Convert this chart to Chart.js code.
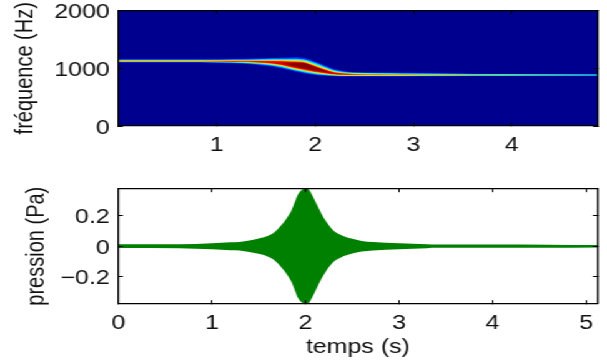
<!DOCTYPE html>
<html lang="fr">
<head>
    <meta charset="UTF-8">
    <title>Spectrogramme et pression</title>
    <script src="https://cdn.jsdelivr.net/npm/chart.js"></script>
    <style>
        html, body { margin: 0; padding: 0; background: #fff; overflow: hidden; }
        /* la figure d'origine est etiree en largeur */
        #figure { position: absolute; left: 0; top: 0; width: 486px; height: 364px; transform-origin: 0 0; transform: scaleX(1.249); }
        canvas { position: absolute; left: 0; }
    </style>
</head>
<body>
<div id="figure">
    <canvas id="spectro" width="486" height="180" style="top:-20px"></canvas>
    <canvas id="pression" width="486" height="204" style="top:160px"></canvas>
</div>
<script>
    // Spectrogramme: contours (Hz)
    const temps = [0, 0.62, 1.03, 1.3, 1.48, 1.65, 1.76, 1.88, 1.98, 2.09, 2.19, 2.29, 2.4, 2.65, 2.88, 3.37, 3.88, 4.87];
    const bleuHaut = [1157, 1157, 1158, 1165, 1175, 1183, 1190, 1181, 1129, 1057, 991, 952, 934, 928, 921, 909, 900, 893];
    const bleuBas = [1098, 1098, 1090, 1075, 1043, 1000, 957, 914, 888, 871, 862, 857, 857, 857, 859, 862, 866, 872];
    const cyanHaut = [1147, 1147, 1148, 1150, 1159, 1164, 1164, 1155, 1107, 1034, 969, 938, 924, 918, 914, 903, 897, 890];
    const cyanBas = [1107, 1107, 1100, 1087, 1059, 1017, 974, 931, 901, 881, 869, 864, 864, 864, 864, 868, 871, 876];
    const vertHaut = [1138, 1138, 1138, 1138, 1145, 1148, 1147, 1138, 1086, 1017, 955, 928, 916, 907, 902, 897, 891, 886];
    const vertBas = [1114, 1114, 1109, 1095, 1072, 1034, 989, 948, 916, 893, 878, 871, 871, 871, 871, 873, 875, 879];
    const jauneHaut = [1134, 1134, 1134, 1134, 1136, 1138, 1134, 1124, 1069, 1003, 945, 919, 909, 902, 897, 891, 886, 883];
    const jauneBas = [1119, 1119, 1114, 1102, 1083, 1046, 1002, 960, 928, 903, 883, 876, 876, 876, 876, 878, 881, 883];
    const orangeHaut = [1131, 1131, 1131, 1131, 1129, 1128, 1122, 1110, 1055, 989, 935, 912, 902, 897, 891, 886, 883, 883];
    const orangeBas = [1122, 1122, 1119, 1107, 1090, 1055, 1012, 971, 938, 912, 891, 883, 883, 883, 883, 883, 883, 883];
    const rougeHaut = [1126, 1126, 1125, 1122, 1121, 1117, 1110, 1100, 1043, 977, 928, 905, 897, 891, 888, 888, 888, 888];
    const rougeBas = [1126, 1126, 1123, 1115, 1098, 1065, 1022, 983, 950, 922, 900, 890, 890, 890, 888, 888, 888, 888];
    const sombreHaut = [1086, 1086, 1086, 1086, 1086, 1086, 1093, 1090, 1034, 966, 908, 908, 908, 908, 908, 908, 908, 908];
    const sombreBas = [1086, 1086, 1086, 1086, 1086, 1086, 1043, 1000, 966, 940, 908, 908, 908, 908, 908, 908, 908, 908];

    // Pression: enveloppe du signal (Pa)
    const tempsPression = [0, 0.65, 1, 1.2, 1.295, 1.4, 1.51, 1.6, 1.67, 1.74, 1.795, 1.85, 1.885, 1.92, 1.97, 2, 2.027, 2.063, 2.117, 2.17, 2.224, 2.295, 2.384, 2.49, 2.6, 2.72, 3, 3.3, 3.4, 4, 4.6, 5.12];
    const enveloppe = [0.012, 0.013, 0.02, 0.026, 0.028, 0.038, 0.052, 0.069, 0.094, 0.138, 0.181, 0.236, 0.29, 0.341, 0.374, 0.378, 0.376, 0.345, 0.279, 0.214, 0.159, 0.105, 0.072, 0.05, 0.035, 0.028, 0.02, 0.013, 0.011, 0.011, 0.01, 0.008];

    // Graduations
    const freqTicks = [0, 1000, 2000];
    const freqLabels = ['0', '1000', '2000'];
    const tempsTicksHaut = [1, 2, 3, 4];
    const tempsLabelsHaut = ['1', '2', '3', '4'];
    const pressionTicks = [-0.2, 0, 0.2];
    const pressionLabels = ['\u22120.2', '0', '0.2'];
    const tempsTicksBas = [0, 1, 2, 3, 4, 5];
    const tempsLabelsBas = ['0', '1', '2', '3', '4', '5'];

    const police = { family: '"Liberation Sans", Arial, sans-serif', size: 20 };

    function axe(position, min, max, valeurs, labels, taille, titre, decalage) {
        const horizontal = position === 'top' || position === 'bottom';
        const avecTexte = position === 'left' || position === 'bottom';
        return {
            type: 'linear',
            position,
            min,
            max,
            border: { display: true, color: '#000', width: 1.3, z: 2 },
            grid: { drawOnChartArea: false, drawTicks: true, tickLength: -3.5, tickColor: '#000', tickWidth: 1, z: 2 },
            ticks: {
                display: avecTexte,
                color: '#111',
                font: police,
                padding: horizontal ? 11 : 10.5,
                labelOffset: horizontal ? 0 : 2,
                maxRotation: 0,
                autoSkip: false,
                callback: v => labels[valeurs.indexOf(v)]
            },
            title: titre ? { display: true, text: titre, color: '#111', font: police, padding: { top: decalage, bottom: decalage } } : { display: false },
            afterBuildTicks: s => { s.ticks = valeurs.map(v => ({ value: v })); },
            afterFit: s => { if (horizontal) s.height = taille; else s.width = taille; }
        };
    }

    // fond bleu nuit du spectrogramme, et leger flou des contours
    const fondPlugin = {
        id: 'fond',
        beforeDatasetsDraw(chart, args, opts) {
            if (!opts.color) return;
            const a = chart.chartArea;
            chart.ctx.fillStyle = opts.color;
            chart.ctx.fillRect(a.left, a.top, a.width, a.height);
            chart.ctx.filter = 'blur(0.6px)';
        },
        afterDatasetsDraw(chart) {
            chart.ctx.filter = 'none';
        }
    };

    function bande(xs, haut, bas, couleur) {
        const commun = { borderWidth: 0, pointRadius: 0, cubicInterpolationMode: 'monotone' };
        return [
            { ...commun, data: xs.map((x, i) => ({ x, y: haut[i] })), fill: '+1', backgroundColor: couleur },
            { ...commun, data: xs.map((x, i) => ({ x, y: bas[i] })), fill: false }
        ];
    }

    new Chart(document.getElementById('spectro'), {
        type: 'line',
        plugins: [fondPlugin],
        data: {
            // le premier jeu est dessine au-dessus: du centre vers le bord
            datasets: [
                ...bande(temps, sombreHaut, sombreBas, '#8a0000'),
                ...bande(temps, rougeHaut, rougeBas, '#e00000'),
                ...bande(temps, orangeHaut, orangeBas, '#ff6000'),
                ...bande(temps, jauneHaut, jauneBas, '#ffe000'),
                ...bande(temps, vertHaut, vertBas, '#60ffa0'),
                ...bande(temps, cyanHaut, cyanBas, '#00d0ff'),
                ...bande(temps, bleuHaut, bleuBas, '#0030ff')
            ]
        },
        options: {
            responsive: false,
            animation: false,
            events: [],
            layout: { padding: { top: 30.5, right: 7.6, bottom: 0, left: 0 } },
            plugins: { legend: { display: false }, tooltip: { enabled: false }, fond: { color: '#00008f' } },
            scales: {
                x: axe('bottom', 0, 4.87, tempsTicksHaut, tempsLabelsHaut, 34),
                xHaut: axe('top', 0, 4.87, tempsTicksHaut, tempsLabelsHaut, 0),
                y: axe('left', 0, 2000, freqTicks, freqLabels, 94.9, 'fréquence (Hz)', 8),
                yDroite: axe('right', 0, 2000, freqTicks, freqLabels, 0)
            }
        }
    });

    new Chart(document.getElementById('pression'), {
        type: 'line',
        plugins: [fondPlugin],
        data: {
            datasets: bande(tempsPression, enveloppe, enveloppe.map(v => -v), '#008000')
        },
        options: {
            responsive: false,
            animation: false,
            events: [],
            layout: { padding: { top: 28.7, right: 7.6, bottom: 0, left: 0 } },
            plugins: { legend: { display: false }, tooltip: { enabled: false } },
            scales: {
                x: axe('bottom', 0, 5.12, tempsTicksBas, tempsLabelsBas, 60.3, 'temps (s)', 5),
                xHaut: axe('top', 0, 5.12, tempsTicksBas, tempsLabelsBas, 0),
                y: axe('left', -0.378, 0.378, pressionTicks, pressionLabels, 94.9, 'pression (Pa)', 17),
                yDroite: axe('right', -0.378, 0.378, pressionTicks, pressionLabels, 0)
            }
        }
    });
</script>
</body>
</html>
